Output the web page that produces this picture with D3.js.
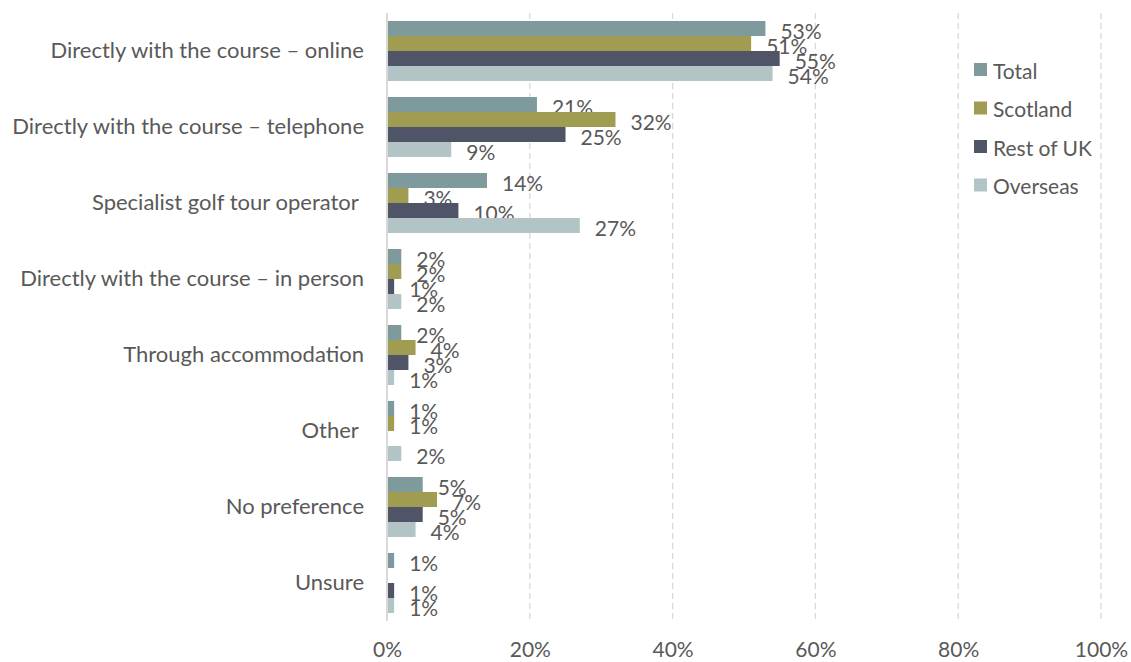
<!DOCTYPE html>
<html>
<head>
<meta charset="utf-8">
<script src="https://cdn.jsdelivr.net/npm/d3@7"></script>
<style>
  html, body { margin: 0; padding: 0; background: #fff; }
  svg text { font-family: Lato, "Open Sans", sans-serif; fill: #595959; }
</style>
</head>
<body>
<svg id="chart" width="1131" height="662"></svg>
<script>
const categories = [
  "Directly with the course \u2013 online",
  "Directly with the course \u2013 telephone",
  "Specialist golf tour operator\u00a0",
  "Directly with the course \u2013 in person",
  "Through accommodation",
  "Other\u00a0",
  "No preference",
  "Unsure"
];
const seriesNames = ["Total", "Scotland", "Rest of UK", "Overseas"];
const totalValues    = [53, 21, 14, 2, 2, 1, 5, 1];
const scotlandValues = [51, 32, 3, 2, 4, 1, 7, 0];
const restUKValues   = [55, 25, 10, 1, 3, 0, 5, 1];
const overseasValues = [54, 9, 27, 2, 1, 2, 4, 1];
const tickValues = [0, 20, 40, 60, 80, 100];
const colors = ["#7f9a9c", "#a09d52", "#4f5466", "#b2c4c6"];

const seriesValues = [totalValues, scotlandValues, restUKValues, overseasValues];

const svg = d3.select("#chart");
const x = d3.scaleLinear().domain([0, 100]).range([387, 1101]);
const y = d3.scaleBand().domain(categories).range([13, 621]).paddingInner(16/76).paddingOuter(8/76);
const ySub = d3.scaleBand().domain(seriesNames).range([0, y.bandwidth()]);
const color = d3.scaleOrdinal().domain(seriesNames).range(colors);

// gridlines
svg.append("g").selectAll("line")
  .data(tickValues.filter(d => d > 0))
  .join("line")
  .attr("x1", d => x(d)).attr("x2", d => x(d))
  .attr("y1", 13).attr("y2", 621)
  .attr("stroke", "#d9d9d9").attr("stroke-width", 1.3)
  .attr("stroke-dasharray", "6,4");

// bars
const groups = svg.append("g").selectAll("g")
  .data(categories)
  .join("g")
  .attr("transform", d => `translate(0,${y(d)})`);

groups.each(function(cat, ci) {
  const g = d3.select(this);
  seriesNames.forEach((s, si) => {
    const v = seriesValues[si][ci];
    if (v > 0) {
      g.append("rect")
        .attr("x", x(0))
        .attr("y", ySub(s))
        .attr("width", x(v) - x(0))
        .attr("height", ySub.bandwidth())
        .attr("fill", color(s));
      g.append("text")
        .attr("x", x(v) + 15)
        .attr("y", ySub(s) + ySub.bandwidth() / 2 + 1.5)
        .attr("dominant-baseline", "central")
        .attr("font-size", 21)
        .text(v + "%");
    }
  });
});

// axis line
svg.append("line")
  .attr("x1", x(0)).attr("x2", x(0))
  .attr("y1", 13).attr("y2", 621)
  .attr("stroke", "#d9d9d9").attr("stroke-width", 2);

// category labels
const yAxis = d3.axisLeft(y).tickSize(0).tickPadding(0);
const yg = svg.append("g").attr("transform", "translate(364,0)").call(yAxis);
yg.select(".domain").remove();
yg.selectAll("text").attr("font-size", 22).attr("fill", "#595959")
  .style("font-family", "Lato, 'Open Sans', sans-serif");

// x axis labels
const xAxis = d3.axisBottom(x).tickValues(tickValues).tickFormat(d => d + "%").tickSize(0).tickPadding(0);
const xg = svg.append("g").attr("transform", "translate(0,642)").call(xAxis);
xg.select(".domain").remove();
xg.selectAll("text").attr("font-size", 21).attr("fill", "#595959")
  .style("font-family", "Lato, 'Open Sans', sans-serif");

// legend
const legend = svg.append("g").attr("transform", "translate(974,62)");
seriesNames.forEach((s, i) => {
  const row = legend.append("g").attr("transform", `translate(0,${i * 38.5})`);
  row.append("rect").attr("width", 13).attr("height", 13).attr("y", 1).attr("fill", color(s));
  row.append("text").attr("x", 19).attr("y", 8).attr("dominant-baseline", "central")
    .attr("font-size", 21).text(s);
});
</script>
</body>
</html>
